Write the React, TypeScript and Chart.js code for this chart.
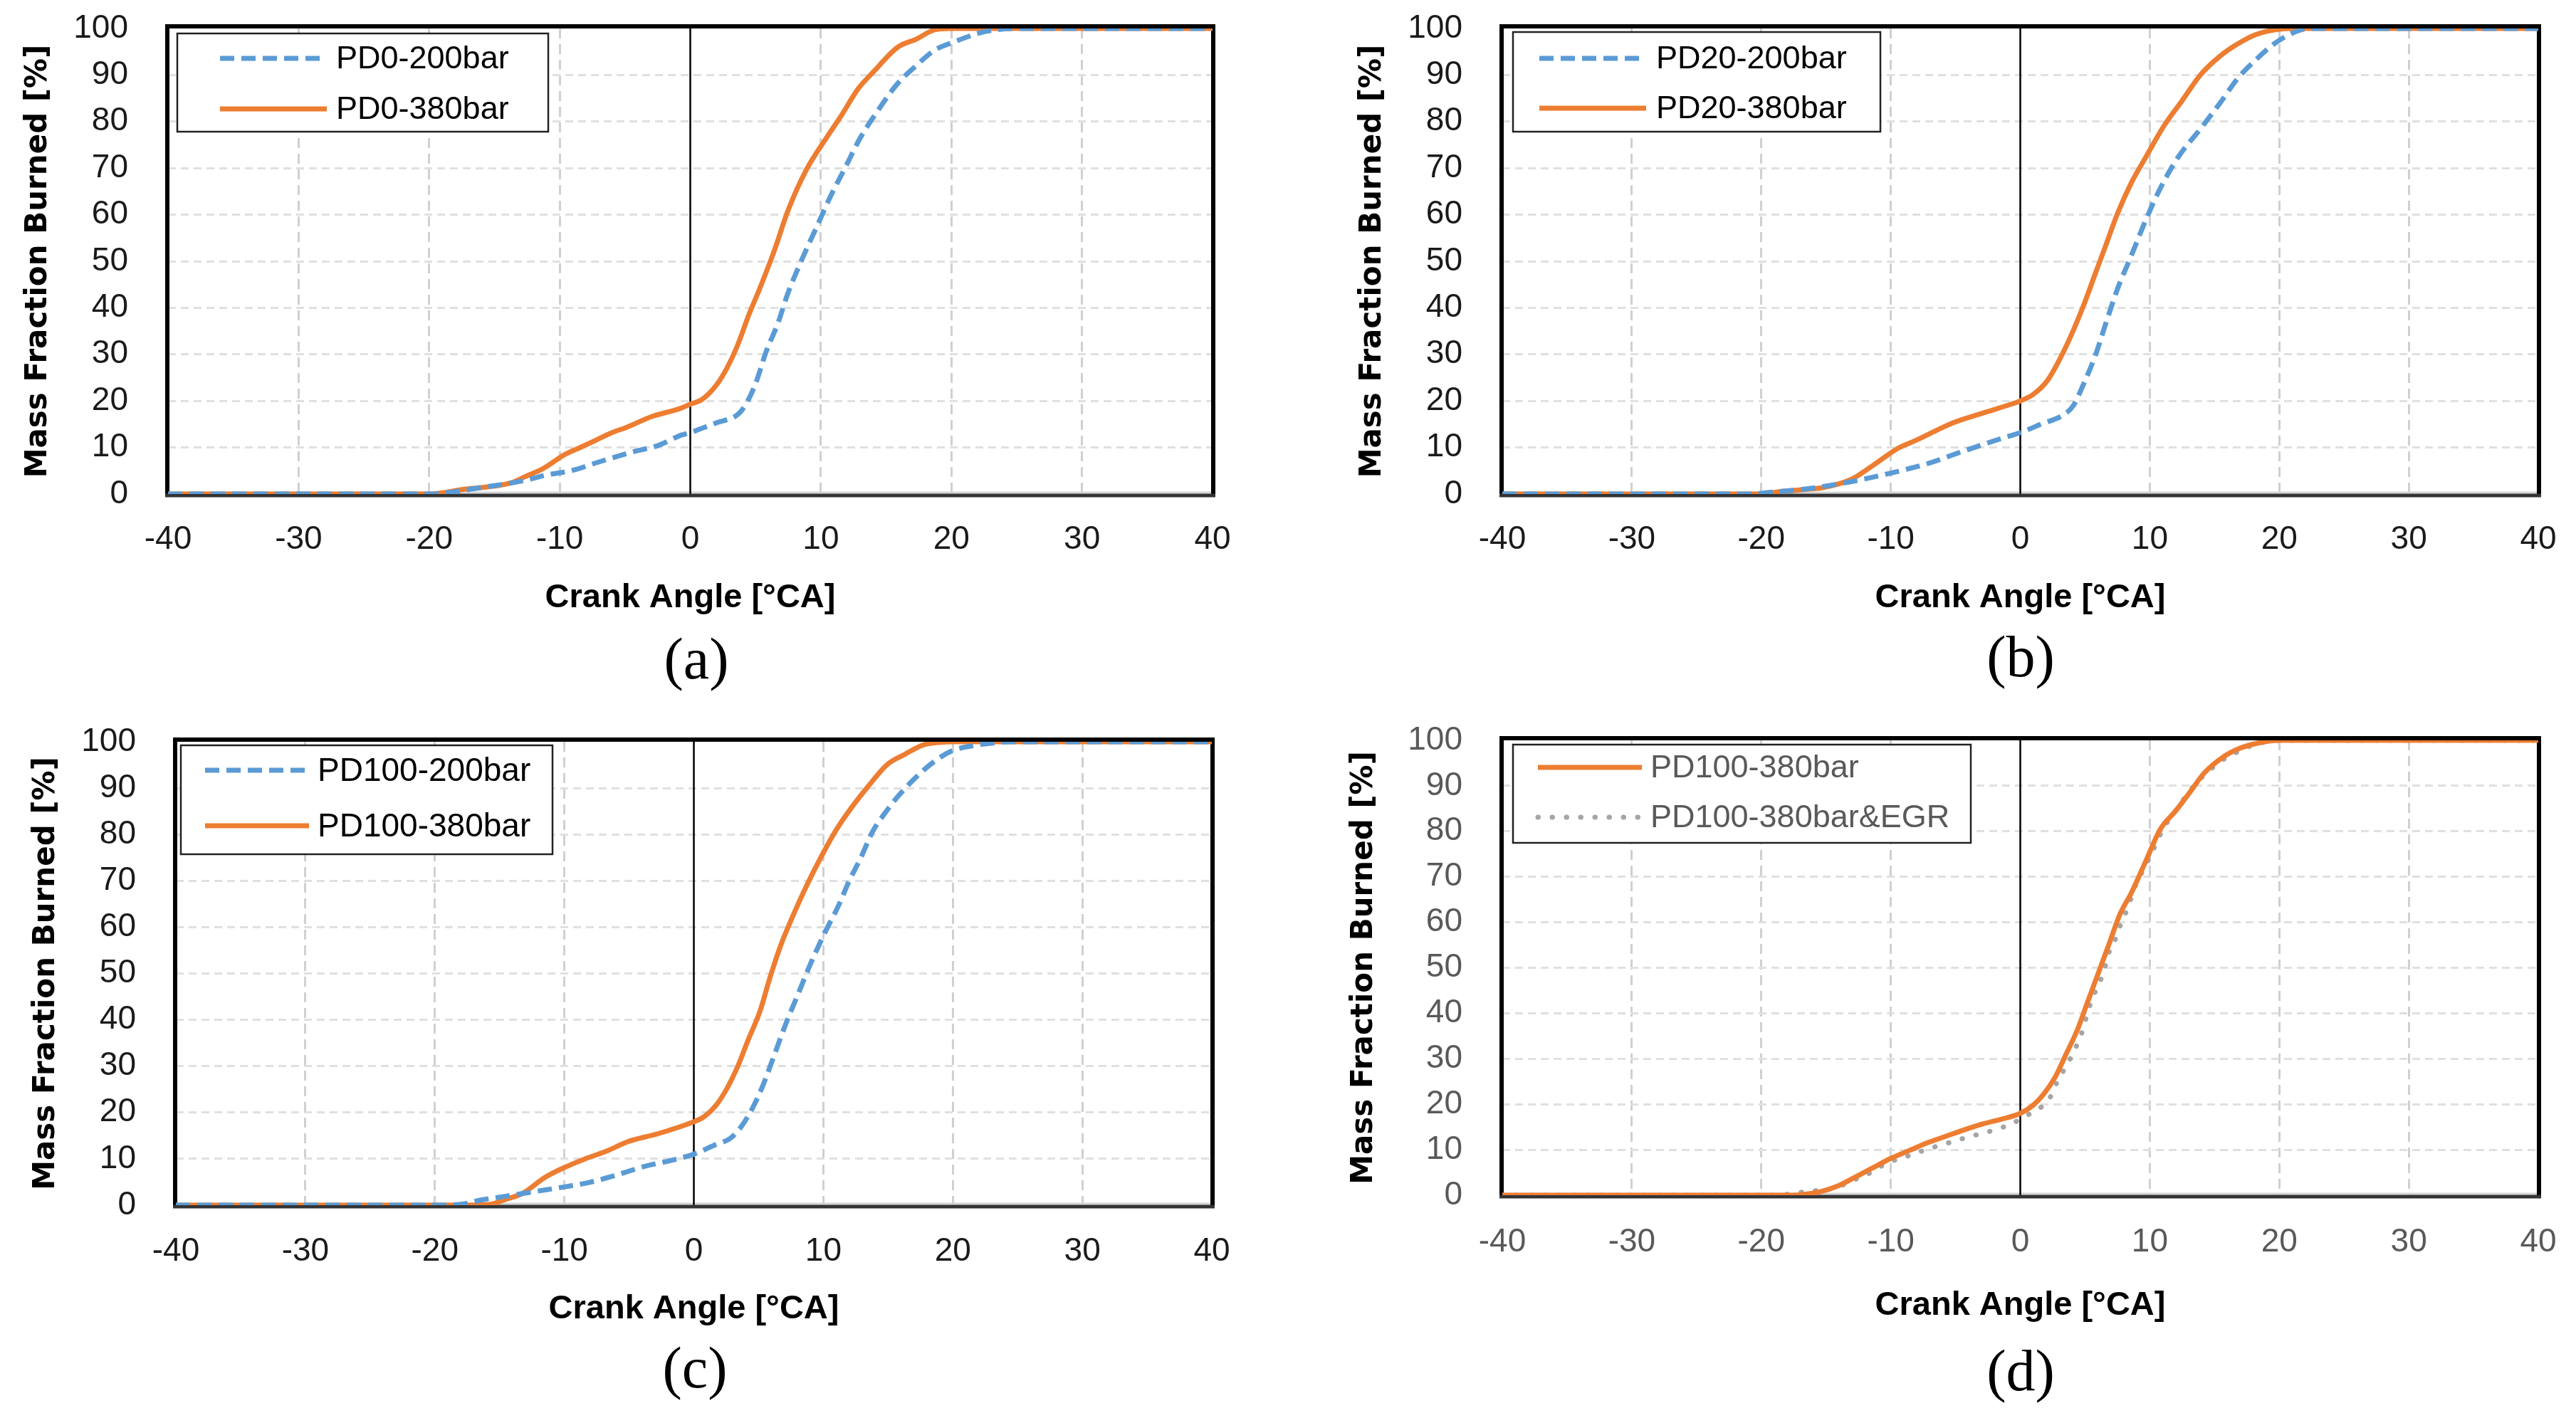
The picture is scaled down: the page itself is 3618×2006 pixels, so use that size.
import React, { useEffect, useRef } from "react";
import { Chart, registerables } from "chart.js";

Chart.register(...registerables);

// ---------------- DATA ----------------
const xTicks = [-40, -30, -20, -10, 0, 10, 20, 30, 40];
const yTicks = [0, 10, 20, 30, 40, 50, 60, 70, 80, 90, 100];

// (a)
const aLabels = ["PD0-200bar", "PD0-380bar"];
const a200X = [-40, -20, -16, -12.9, -11, -9, -7.1, -4.6, -2.4, -0.75, 0, 2, 3.6, 4.2, 5, 5.8, 6.7, 7.5, 8.6, 9.7, 10.8, 11.9, 13, 14.4, 15.8, 17.3, 18.7, 20.1, 22.1, 23.4, 25, 40];
const a200Y = [0, 0, 1.4, 2.8, 4.1, 5.1, 6.8, 8.9, 10.5, 12.6, 13.2, 15.3, 17, 19, 23.7, 30.5, 36.6, 43.3, 50.7, 57.5, 64.3, 70.3, 76.4, 82.5, 87.9, 92, 95.3, 97, 99, 99.7, 100, 100];
const a380X = [-40, -20, -17.4, -13.75, -12.6, -11.25, -9.6, -8.5, -7.5, -6, -4.9, -3, -0.75, 0, 0.9, 2, 2.8, 3.6, 4.5, 5.3, 6.4, 7.5, 8.9, 10.4, 11.5, 12.9, 14, 15.9, 17.3, 18.7, 20, 40];
const a380Y = [0, 0, 1, 2.4, 3.8, 5.5, 8.5, 9.9, 11.2, 13.2, 14.3, 16.6, 18.4, 19.3, 20.3, 23.4, 27, 31.8, 38.6, 44, 52, 61, 69.7, 76.4, 81, 87.2, 90.6, 96, 97.7, 99.7, 100, 100];

// (b)
const bLabels = ["PD20-200bar", "PD20-380bar"];
const b200X = [-40, -20.5, -19.9, -16.5, -12.8, -10, -7.2, -4.4, -1.5, 0, 1.5, 3.5, 4.1, 4.9, 5.8, 6.6, 7.5, 8.6, 9.7, 10.8, 12.2, 13.9, 15.4, 16.8, 18.2, 19.6, 21, 22.4, 40];
const b200Y = [0, 0, 0.2, 1.1, 2.8, 4.5, 6.5, 9.2, 11.9, 13.2, 14.9, 17.3, 19, 23.7, 29.8, 36.6, 44, 51.4, 58.9, 65.6, 72.4, 78.4, 83.9, 89.3, 93.3, 96.7, 99, 100, 100];
const b380X = [-40, -20.5, -18.2, -16.2, -15.4, -13.1, -11.4, -9.4, -8, -5.2, -3, -0.7, 0, 1, 2.1, 3.2, 4.1, 4.9, 5.8, 6.6, 7.5, 8.6, 9.7, 11.1, 12.5, 13.9, 15.4, 16.8, 18.2, 19.6, 21, 40];
const b380Y = [0, 0, 0.6, 1.1, 1.3, 3.1, 6.1, 9.9, 11.6, 15.3, 17.3, 19.3, 20, 21.4, 24.4, 29.8, 35.2, 40.6, 47.4, 53.4, 60.2, 67, 72.4, 79.1, 84.5, 90, 94, 96.7, 98.7, 99.7, 100, 100];

// (c)
const cLabels = ["PD100-200bar", "PD100-380bar"];
const c200X = [-40, -20, -18, -16.3, -14.6, -12.4, -10.1, -8.1, -6.2, -3.9, -1.7, 0, 1.7, 2.8, 3.7, 4.5, 5.3, 6.2, 7, 8.1, 9, 10.1, 11.2, 12, 12.9, 13.8, 14.6, 15.7, 17.1, 18.5, 19.9, 21.9, 23.3, 24.5, 40];
const c200Y = [0, 0, 0.2, 1.2, 1.9, 2.9, 3.9, 4.9, 6.3, 8.3, 9.7, 11, 13.1, 14.4, 17.1, 20.8, 25.6, 32.3, 38.4, 45.9, 52, 58.7, 64.8, 70, 75, 80.6, 84, 88, 92.2, 95.6, 98, 99.3, 99.8, 100, 100];
const c380X = [-40, -18, -15.7, -14.6, -13.2, -11.5, -10.1, -8.4, -6.7, -5.1, -2.8, -1.1, 0, 0.8, 1.7, 2.5, 3.4, 4.2, 5.1, 5.9, 6.7, 7.6, 8.7, 9.8, 11, 12.1, 13.5, 14.9, 16.3, 17.7, 19.1, 20, 40];
const c380Y = [0, 0, 0.2, 1.2, 2.6, 6, 8, 10, 11.7, 13.7, 15.4, 16.9, 18, 19.1, 21.5, 24.9, 30, 35.7, 41.8, 49.3, 56, 62.1, 68.9, 75, 81, 85.5, 90.5, 95, 97.3, 99.3, 99.9, 100, 100];

// (d)
const dLabels = ["PD100-380bar", "PD100-380bar&EGR"];
const d380X = [-40, -18, -17, -15.4, -14.2, -12.8, -11.4, -10, -8.6, -7.2, -5.8, -4.4, -3, -1.5, 0, 1, 1.8, 2.7, 3.5, 4.4, 5.2, 6.1, 6.9, 7.7, 8.6, 9.7, 10.8, 12, 13.1, 14.2, 15.6, 17, 18.5, 20, 40];
const d380Y = [0, 0, 0.1, 0.8, 1.9, 3.9, 6, 8.1, 9.8, 11.5, 12.9, 14.3, 15.6, 16.7, 18, 19.8, 22.2, 26, 30.8, 36.3, 42.5, 49.4, 55.6, 61.8, 66.6, 73.5, 80.4, 84.5, 88.6, 92.8, 96.2, 98.3, 99.5, 100, 100];
const dEgrX = [-40, -19, -16.5, -14.2, -13, -11.8, -10.8, -9.7, -8.6, -7.5, -6.4, -5.2, -3.9, -2.8, -1.7, -0.6, 0.4, 1.5, 2.3, 2.8, 3.4, 4, 4.5, 4.9, 5.2, 5.6, 6.1, 6.5, 6.8, 7.3, 7.7, 8.2, 8.6, 9, 9.6, 10.1, 10.6, 11.1, 11.8, 12.5, 13.2, 14.1, 14.9, 15.9, 16.9, 18, 19.3, 20.5, 40];
const dEgrY = [0, 0, 0.8, 1.7, 3.2, 4.6, 6.3, 7.7, 8.7, 9.8, 10.8, 11.8, 12.9, 13.7, 14.6, 15.8, 17.4, 19.1, 21.5, 24.6, 27.7, 30.8, 33.9, 37, 40.2, 43.5, 46.6, 49.7, 53, 56, 59.2, 62.5, 65.6, 68.8, 72, 74.9, 78, 80.9, 83.7, 86.6, 89.3, 92.1, 94.1, 96.2, 97.6, 99, 99.8, 100, 100];

const xTitle = "Crank Angle [°CA]";
const yTitle = "Mass Fraction Burned [%]";
const captions = ["(a)", "(b)", "(c)", "(d)"];

// ---------------- STYLES ----------------
const BLUE = "#5b9bd5";
const ORANGE = "#ed7d31";
const GRAY = "#a5a5a5";

const blueStyle = { color: BLUE, width: 7, dash: [20, 10], cap: "butt" };
const orangeStyle = { color: ORANGE, width: 7, dash: [] as number[], cap: "butt" };
const grayStyle = { color: GRAY, width: 7, dash: [0.5, 19.5], cap: "round" };

type Series = { label: string; xs: number[]; ys: number[]; style: any };
type Panel = {
  ox: number; oy: number; W: number; H: number;
  area: { left: number; top: number; right: number; bottom: number };
  series: Series[];
  yTitleX: number; xTitleY: number; tickGap: number;
  tickColor: string; legendColor: string;
  legend: { box: number[]; rows: number[]; sample: number[]; textX: number; size: number };
  caption: string; capX: number; capY: number;
};

const panels: Panel[] = [
  {
    ox: 0, oy: 0, W: 1800, H: 1000,
    area: { left: 236, top: 40, right: 1703, bottom: 694 },
    series: [
      { label: aLabels[0], xs: a200X, ys: a200Y, style: blueStyle },
      { label: aLabels[1], xs: a380X, ys: a380Y, style: orangeStyle },
    ],
    yTitleX: 54, xTitleY: 840, tickGap: 64, tickColor: "#1a1a1a", legendColor: "#000",
    legend: { box: [249, 47, 770, 185], rows: [82, 153], sample: [309, 459], textX: 472, size: 45 },
    caption: captions[0], capX: 978, capY: 933,
  },
  {
    ox: 1809, oy: 0, W: 1809, H: 1000,
    area: { left: 2110, top: 40, right: 3565, bottom: 694 },
    series: [
      { label: bLabels[0], xs: b200X, ys: b200Y, style: blueStyle },
      { label: bLabels[1], xs: b380X, ys: b380Y, style: orangeStyle },
    ],
    yTitleX: 1928, xTitleY: 840, tickGap: 64, tickColor: "#1a1a1a", legendColor: "#000",
    legend: { box: [2125, 45, 2641, 185], rows: [82, 152], sample: [2162, 2312], textX: 2326, size: 45 },
    caption: captions[1], capX: 2838, capY: 930,
  },
  {
    ox: 0, oy: 1000, W: 1800, H: 1006,
    area: { left: 247, top: 1042, right: 1702, bottom: 1693 },
    series: [
      { label: cLabels[0], xs: c200X, ys: c200Y, style: blueStyle },
      { label: cLabels[1], xs: c380X, ys: c380Y, style: orangeStyle },
    ],
    yTitleX: 65, xTitleY: 1839, tickGap: 65, tickColor: "#1a1a1a", legendColor: "#000",
    legend: { box: [254, 1047, 776, 1200], rows: [1082, 1160], sample: [288, 434], textX: 446, size: 46 },
    caption: captions[2], capX: 976, capY: 1929,
  },
  {
    ox: 1809, oy: 1000, W: 1809, H: 1006,
    area: { left: 2110, top: 1040, right: 3565, bottom: 1679 },
    series: [
      { label: dLabels[0], xs: d380X, ys: d380Y, style: orangeStyle },
      { label: dLabels[1], xs: dEgrX, ys: dEgrY, style: grayStyle },
    ],
    yTitleX: 1916, xTitleY: 1834, tickGap: 66, tickColor: "#595959", legendColor: "#595959",
    legend: { box: [2125, 1046, 2768, 1184], rows: [1078, 1148], sample: [2160, 2306], textX: 2318, size: 45 },
    caption: captions[3], capX: 2838, capY: 1933,
  },
];

const SANS = '"Liberation Sans", Arial, sans-serif';
const TICK_SIZE = 46;
const XT_SIZE = 47;
const YT_SIZE = 42;

const framePlugin = {
  id: "frame",
  beforeDatasetsDraw(chart: any) {
    const { ctx, chartArea } = chart;
    const { left, top, right, bottom } = chartArea;
    const x0 = chart.scales.x.getPixelForValue(0);
    ctx.save();
    ctx.setLineDash([]);
    // light axis line
    ctx.strokeStyle = "#d4d4d4";
    ctx.lineWidth = 3;
    ctx.beginPath();
    ctx.moveTo(left, bottom - 2);
    ctx.lineTo(right, bottom - 2);
    ctx.stroke();
    // zero (vertical axis) line
    ctx.strokeStyle = "#000";
    ctx.lineWidth = 2.5;
    ctx.beginPath();
    ctx.moveTo(x0, top);
    ctx.lineTo(x0, bottom + 3);
    ctx.stroke();
    // frame
    ctx.strokeStyle = "#000";
    ctx.lineWidth = 6;
    ctx.beginPath();
    ctx.moveTo(left - 1, bottom + 2);
    ctx.lineTo(left - 1, top - 3);
    ctx.lineTo(right + 1, top - 3);
    ctx.lineTo(right + 1, bottom + 2);
    ctx.stroke();
    ctx.strokeStyle = "#333333";
    ctx.lineWidth = 5;
    ctx.beginPath();
    ctx.moveTo(left - 4, bottom + 2);
    ctx.lineTo(right + 4, bottom + 2);
    ctx.stroke();
    ctx.restore();
  },
};

const boxLegendPlugin = {
  id: "boxLegend",
  afterDraw(chart: any, _args: any, o: any) {
    const ctx = chart.ctx;
    const [l, t, r, b] = o.box;
    ctx.save();
    ctx.fillStyle = "#fff";
    ctx.fillRect(l, t, r - l, b - t);
    ctx.strokeStyle = "#222";
    ctx.lineWidth = 2.5;
    ctx.setLineDash([]);
    ctx.strokeRect(l, t, r - l, b - t);
    chart.data.datasets.forEach((ds: any, i: number) => {
      const y = o.rows[i];
      ctx.save();
      ctx.strokeStyle = ds.borderColor;
      ctx.lineWidth = ds.borderWidth;
      ctx.setLineDash(ds.borderDash || []);
      ctx.lineCap = ds.borderCapStyle || "butt";
      ctx.beginPath();
      ctx.moveTo(o.sample[0], y);
      ctx.lineTo(o.sample[1], y);
      ctx.stroke();
      ctx.restore();
      ctx.fillStyle = o.color;
      ctx.font = `${o.size}px ${SANS}`;
      ctx.textBaseline = "middle";
      ctx.textAlign = "left";
      ctx.fillText(ds.label, o.textX, y + 2);
    });
    ctx.restore();
  },
};

function zeroPad(scale: any) {
  scale.paddingTop = 0;
  scale.paddingBottom = 0;
  scale.paddingLeft = 0;
  scale.paddingRight = 0;
}

function makeConfig(p: Panel): any {
  const A = {
    left: p.area.left - p.ox,
    top: p.area.top - p.oy,
    right: p.area.right - p.ox,
    bottom: p.area.bottom - p.oy,
  };
  const xAxisH = p.xTitleY - p.area.bottom + (XT_SIZE * 1.2) / 2;
  const padBottom = p.H - A.bottom - xAxisH;
  const yTitlePad = p.yTitleX - p.ox - (YT_SIZE * 1.2) / 2;
  const xTickPad = p.tickGap - (TICK_SIZE * 1.2) / 2;
  return {
    type: "line",
    data: {
      datasets: p.series.map((s) => ({
        label: s.label,
        data: s.xs.map((x, i) => ({ x, y: s.ys[i] })),
        borderColor: s.style.color,
        backgroundColor: s.style.color,
        borderWidth: s.style.width,
        borderDash: s.style.dash,
        borderCapStyle: s.style.cap,
        borderJoinStyle: "round",
        pointRadius: 0,
        cubicInterpolationMode: "monotone",
        fill: false,
      })),
    },
    options: {
      animation: false,
      responsive: false,
      devicePixelRatio: 1,
      events: [],
      layout: { padding: { left: 0, top: A.top, right: p.W - A.right, bottom: padBottom } },
      plugins: {
        legend: { display: false },
        tooltip: { enabled: false },
        boxLegend: {
          box: [p.legend.box[0] - p.ox, p.legend.box[1] - p.oy, p.legend.box[2] - p.ox, p.legend.box[3] - p.oy],
          rows: p.legend.rows.map((r) => r - p.oy),
          sample: p.legend.sample.map((v) => v - p.ox),
          textX: p.legend.textX - p.ox,
          size: p.legend.size,
          color: p.legendColor,
        },
      },
      scales: {
        x: {
          type: "linear",
          min: xTicks[0],
          max: xTicks[xTicks.length - 1],
          afterBuildTicks: (scale: any) => {
            scale.ticks = xTicks.map((v) => ({ value: v }));
          },
          ticks: {
            autoSkip: false,
            maxRotation: 0,
            padding: xTickPad,
            color: p.tickColor,
            font: { family: SANS, size: TICK_SIZE },
          },
          grid: {
            drawTicks: false,
            lineWidth: 3,
            color: (c: any) =>
              c.tick && (c.tick.value === -40 || c.tick.value === 0 || c.tick.value === 40)
                ? "rgba(0,0,0,0)"
                : "#d0d0d0",
          },
          border: { display: false, dash: [14, 8] },
          title: {
            display: true,
            text: xTitle,
            color: "#000",
            font: { family: SANS, size: XT_SIZE, weight: "bold" },
            padding: { top: 0, bottom: 0 },
          },
          afterFit: (scale: any) => {
            scale.height = xAxisH;
            zeroPad(scale);
          },
        },
        y: {
          type: "linear",
          min: yTicks[0],
          max: yTicks[yTicks.length - 1],
          afterBuildTicks: (scale: any) => {
            scale.ticks = yTicks.map((v) => ({ value: v }));
          },
          ticks: {
            autoSkip: false,
            padding: 56,
            color: p.tickColor,
            font: { family: SANS, size: TICK_SIZE },
          },
          grid: {
            drawTicks: false,
            lineWidth: 3,
            color: (c: any) =>
              c.tick && (c.tick.value === 0 || c.tick.value === 100) ? "rgba(0,0,0,0)" : "#e0e0e0",
          },
          border: { display: false, dash: [11, 7] },
          title: {
            display: true,
            text: yTitle,
            color: "#000",
            font: { family: '"DejaVu Sans", Verdana, sans-serif', size: YT_SIZE, weight: "bold" },
            padding: { top: yTitlePad, bottom: 0 },
          },
          afterFit: (scale: any) => {
            scale.width = A.left;
            zeroPad(scale);
          },
        },
      },
    },
    plugins: [framePlugin, boxLegendPlugin],
  };
}

function PanelChart({ p }: { p: Panel }) {
  const ref = useRef<HTMLCanvasElement | null>(null);
  useEffect(() => {
    if (!ref.current) return;
    const chart = new Chart(ref.current, makeConfig(p));
    return () => chart.destroy();
  }, [p]);
  return (
    <canvas
      ref={ref}
      width={p.W}
      height={p.H}
      style={{ position: "absolute", left: p.ox, top: p.oy, width: p.W, height: p.H }}
    />
  );
}

export default function App() {
  return (
    <div
      style={{
        position: "absolute",
        left: 0,
        top: 0,
        width: 3618,
        height: 2006,
        background: "#fff",
        overflow: "hidden",
      }}
    >
      {panels.map((p, i) => (
        <PanelChart key={i} p={p} />
      ))}
      {panels.map((p, i) => (
        <div
          key={"c" + i}
          style={{
            position: "absolute",
            left: p.capX - 150,
            top: p.capY - 48,
            width: 300,
            textAlign: "center",
            fontFamily: '"Liberation Serif", "Times New Roman", serif',
            fontSize: 82,
            lineHeight: "82px",
            color: "#000",
          }}
        >
          {p.caption}
        </div>
      ))}
    </div>
  );
}
